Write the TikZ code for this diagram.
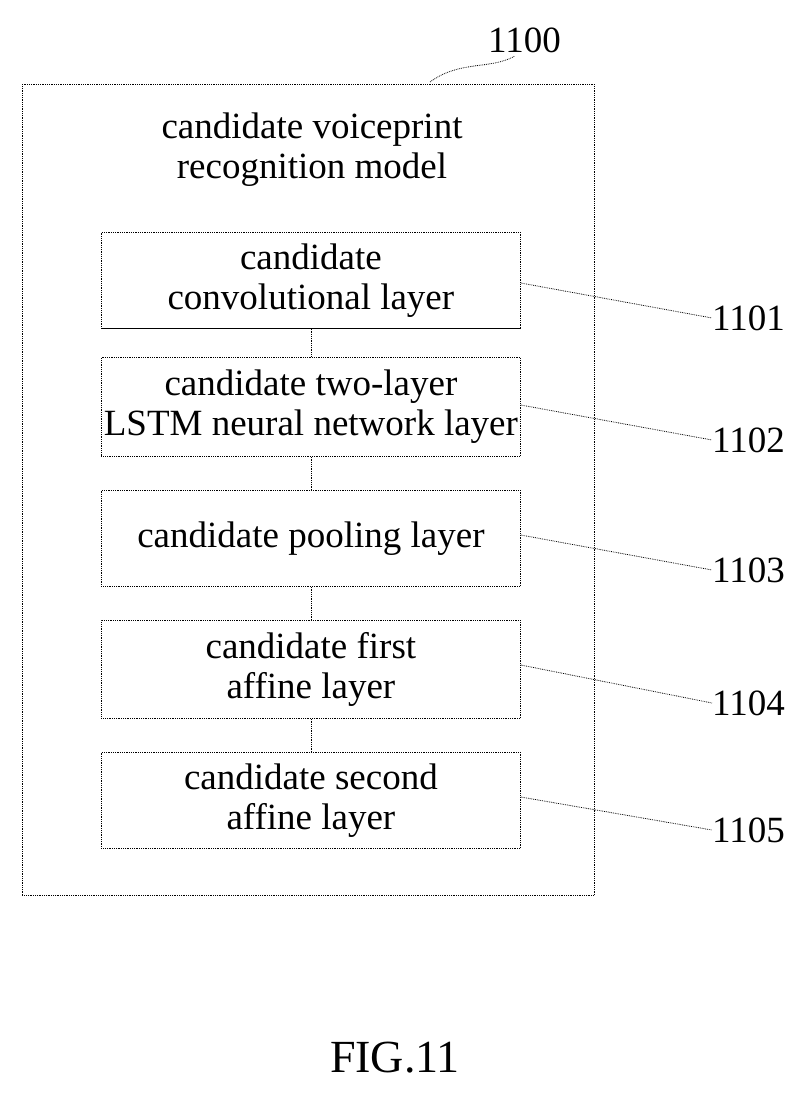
\documentclass[tikz,border=0pt]{standalone}
\usepackage{fontspec}
\setmainfont{Liberation Serif}
\begin{document}
\begin{tikzpicture}[x=1pt,y=-1pt,
 box/.style={draw,densely dotted,line width=0.8pt,minimum width=419pt,anchor=north west,align=center,font=\fontsize{37}{40}\selectfont,inner sep=0pt},
 lead/.style={densely dotted,line width=0.8pt},
 lab/.style={font=\fontsize{37}{40}\selectfont,anchor=west,inner sep=0pt}]
\useasboundingbox (0,0) rectangle (810,1095);
\node[draw,densely dotted,line width=0.8pt,minimum width=572pt,minimum height=811pt,anchor=north west,inner sep=0pt] (outer) at (22,84) {};
\node[font=\fontsize{37}{40}\selectfont,align=center] (title) at (312,150) {candidate voiceprint\\recognition model};
\node[box,minimum height=96pt] (b1) at (101,232) {candidate\\convolutional layer};
\node[box,minimum height=99pt] (b2) at (101,357) {candidate two-layer\\LSTM neural network layer};
\node[box,minimum height=96pt] (b3) at (101,490) {candidate pooling layer};
\node[box,minimum height=98pt] (b4) at (101,620) {candidate first\\affine layer};
\node[box,minimum height=96pt] (b5) at (101,752) {candidate second\\affine layer};
\draw[line width=0.8pt] (b1.south west) -- (b1.south east);
\foreach \a/\b in {b1/b2,b2/b3,b3/b4,b4/b5} \draw[lead] (\a.south) -- (\b.north);
\node[lab] (l1) at (712,318) {1101};
\node[lab] (l2) at (712,440) {1102};
\node[lab] (l3) at (712,570) {1103};
\node[lab] (l4) at (712,703) {1104};
\node[lab] (l5) at (712,830) {1105};
\node[lab] (l0) at (488,40) {1100};
\draw[lead] (b1.east |- 0,283) -- (l1.west);
\draw[lead] (b2.east |- 0,405) -- (l2.west);
\draw[lead] (b3.east |- 0,535) -- (l3.west);
\draw[lead] (b4.east |- 0,665) -- (l4.west);
\draw[lead] (b5.east |- 0,797) -- (l5.west);
\draw[lead] (430,82) .. controls (460,60) and (490,70) .. (515,56);
\node[font=\fontsize{46}{50}\selectfont] (fig) at (395,1058) {FIG.11};
\end{tikzpicture}
\end{document}
